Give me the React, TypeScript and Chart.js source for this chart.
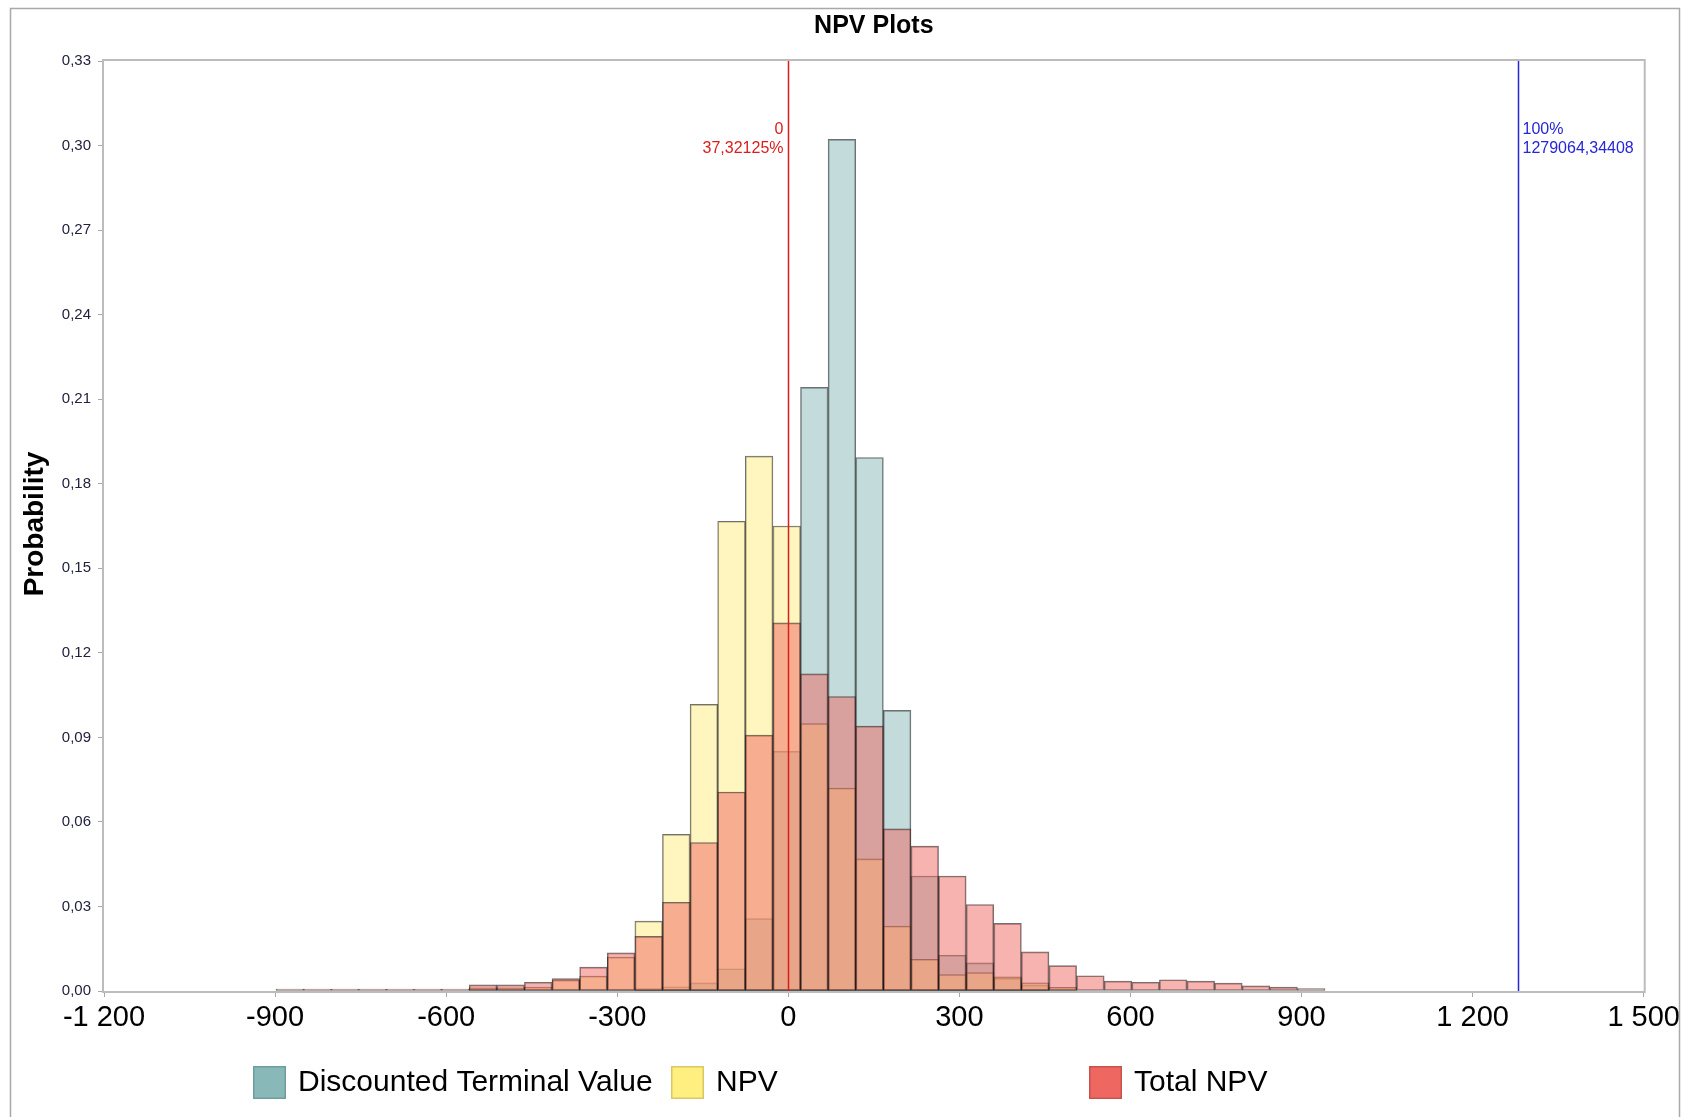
import React, { useEffect, useRef } from "react";
import { Chart, registerables } from "chart.js";

Chart.register(...registerables);

// Histogram bins (thousands): first left edge and common bin width
const BIN_START = -898.4;
const BIN_WIDTH = 48.41;

// Probability per bin, 38 bins
const discountedTerminalValue: (number | null)[] = [
  null, null, null, null, null, null, null, null, null, null,
  null, null, null, 0.0009, 0.0015, 0.0029, 0.0079, 0.0257, 0.085, 0.2142,
  0.3022, 0.1893, 0.0996, 0.0408, 0.0127, 0.01, 0.0045, 0.0021, null, null,
  null, null, null, null, null, null, null, null,
];

const npv: (number | null)[] = [
  null, null, null, null, null, null, null, 0.0011, 0.0011, 0.0014,
  0.0038, 0.0053, 0.012, 0.0248, 0.0556, 0.1017, 0.1667, 0.1898, 0.165, 0.0949,
  0.072, 0.0469, 0.023, 0.0112, 0.0058, 0.0065, 0.005, 0.0029, 0.0013, null,
  null, null, null, null, null, null, null, null,
];

const totalNpv: (number | null)[] = [
  0.0007, 0.0007, 0.0007, 0.0007, 0.0007, 0.0007, 0.0007, 0.0022, 0.0022, 0.0031,
  0.0044, 0.0085, 0.0135, 0.0194, 0.0315, 0.0527, 0.0706, 0.0908, 0.1306, 0.1125,
  0.1045, 0.094, 0.0575, 0.0514, 0.0408, 0.0307, 0.024, 0.0139, 0.009, 0.0054,
  0.0035, 0.0031, 0.004, 0.0035, 0.0028, 0.0018, 0.0014, 0.0009,
];

const X_TICKS = [-1200, -900, -600, -300, 0, 300, 600, 900, 1200, 1500];
const Y_TICKS = [0, 0.03, 0.06, 0.09, 0.12, 0.15, 0.18, 0.21, 0.24, 0.27, 0.3, 0.33];

const lowerMarker = { value: 0, lines: ["0", "37,32125%"] };
const upperMarker = { value: 1279.06434408, lines: ["100%", "1279064,34408"] };

const SERIES = [
  { label: "Discounted Terminal Value", values: discountedTerminalValue, rgb: [136, 184, 184], edge: "#6f9d9d" },
  { label: "NPV", values: npv, rgb: [255, 238, 128], edge: "#d9c865" },
  { label: "Total NPV", values: totalNpv, rgb: [239, 103, 97], edge: "#c8524c" },
];

const FONT = "'Liberation Sans', Arial, Helvetica, sans-serif";

const binCenters = totalNpv.map((_, i) => BIN_START + (i + 0.5) * BIN_WIDTH);

const formatThousands = (v: number) => {
  const s = Math.abs(v).toString();
  const grouped = s.replace(/\B(?=(\d{3})+(?!\d))/g, " ");
  return (v < 0 ? "-" : "") + grouped;
};

const decorations = {
  id: "npvDecorations",
  beforeDatasetsDraw(chart: any) {
    const { ctx, chartArea: a } = chart;
    // plot frame, underneath the bars
    ctx.save();
    ctx.strokeStyle = "#bcbcbc";
    ctx.lineWidth = 2;
    ctx.strokeRect(a.left - 1, a.top - 1, a.right - a.left + 2, a.bottom - a.top + 2);
    ctx.restore();
  },
  afterDatasetsDraw(chart: any) {
    const { ctx, chartArea: a, scales } = chart;
    const x = scales.x;

    // percentile markers
    const drawMarker = (m: { value: number; lines: string[] }, color: string, side: "left" | "right") => {
      const px = Math.round(x.getPixelForValue(m.value)) + 0.5;
      ctx.save();
      ctx.strokeStyle = color;
      ctx.lineWidth = 1.5;
      ctx.beginPath();
      ctx.moveTo(px, a.top);
      ctx.lineTo(px, a.bottom);
      ctx.stroke();
      ctx.fillStyle = color;
      ctx.font = `16px ${FONT}`;
      ctx.textBaseline = "middle";
      ctx.textAlign = side === "left" ? "right" : "left";
      const tx = side === "left" ? px - 5 : px + 4;
      m.lines.forEach((t, i) => ctx.fillText(t, tx, a.top + 69 + i * 19));
      ctx.restore();
    };
    drawMarker(lowerMarker, "#dc1c1c", "left");
    drawMarker(upperMarker, "#2626d6", "right");
  },
  afterDraw(chart: any) {
    const { ctx, chartArea: a } = chart;
    ctx.save();

    // outer frame
    ctx.strokeStyle = "#a9a9a9";
    ctx.lineWidth = 1.5;
    ctx.strokeRect(10.5, 8.5, 1669, 1200);

    // title
    ctx.fillStyle = "#000";
    ctx.font = `bold 25px ${FONT}`;
    ctx.textAlign = "center";
    ctx.textBaseline = "middle";
    ctx.fillText("NPV Plots", (a.left + a.right) / 2, 26);

    // y axis title
    ctx.save();
    ctx.translate(35, (a.top + a.bottom) / 2 - 2);
    ctx.rotate(-Math.PI / 2);
    ctx.font = `bold 28px ${FONT}`;
    ctx.fillText("Probability", 0, 0);
    ctx.restore();

    // legend
    const items = [
      { s: SERIES[0], x: 253 },
      { s: SERIES[1], x: 671 },
      { s: SERIES[2], x: 1089 },
    ];
    ctx.font = `30px ${FONT}`;
    ctx.textAlign = "left";
    ctx.textBaseline = "middle";
    items.forEach(({ s, x }) => {
      ctx.fillStyle = `rgb(${s.rgb.join(",")})`;
      ctx.fillRect(x, 1066, 33, 33);
      ctx.strokeStyle = s.edge;
      ctx.lineWidth = 1.5;
      ctx.strokeRect(x + 0.75, 1066.75, 31.5, 31.5);
      ctx.fillStyle = "#000";
      ctx.fillText(s.label, x + 45, 1083);
    });
    ctx.restore();
  },
};

export default function App() {
  const canvasRef = useRef<HTMLCanvasElement | null>(null);

  useEffect(() => {
    const canvas = canvasRef.current;
    if (!canvas) return;

    const datasets = SERIES.map((s, idx) => ({
      label: s.label,
      data: s.values.map((v, i) => ({ x: binCenters[i], y: v })),
      backgroundColor: `rgba(${s.rgb.join(",")},0.5)`,
      borderColor: "rgba(25,25,25,0.62)",
      borderWidth: 1,
      borderSkipped: false,
      barPercentage: 1,
      categoryPercentage: 1,
      grouped: false,
      // later series sit on top
      order: SERIES.length - idx,
    }));

    const chart = new Chart(canvas, {
      type: "bar",
      data: { datasets } as any,
      options: {
        animation: false,
        responsive: false,
        maintainAspectRatio: false,
        layout: { padding: { top: 61, right: 40, left: 0, bottom: 0 } },
        plugins: {
          legend: { display: false },
          tooltip: { enabled: false },
          title: { display: false },
        },
        scales: {
          x: {
            type: "linear",
            min: X_TICKS[0],
            max: X_TICKS[X_TICKS.length - 1],
            offset: false,
            afterFit: (s: any) => {
              s.height = 126;
            },
            afterBuildTicks: (s: any) => {
              s.ticks = X_TICKS.map((v) => ({ value: v }));
            },
            ticks: {
              autoSkip: false,
              maxRotation: 0,
              minRotation: 0,
              padding: 4,
              color: "#000",
              font: { family: FONT, size: 29 },
              callback: (v: any) => formatThousands(Number(v)),
            },
            grid: {
              offset: false,
              drawOnChartArea: false,
              drawTicks: true,
              tickLength: 6,
              color: "#a8a8a8",
            },
            border: { display: false },
          },
          y: {
            type: "linear",
            min: Y_TICKS[0],
            max: Y_TICKS[Y_TICKS.length - 1],
            afterFit: (s: any) => {
              s.width = 104;
            },
            afterBuildTicks: (s: any) => {
              s.ticks = Y_TICKS.map((v) => ({ value: v }));
            },
            ticks: {
              padding: 7,
              color: "#22223e",
              font: { family: FONT, size: 15 },
              callback: (v: any) => Number(v).toFixed(2).replace(".", ","),
            },
            grid: {
              drawOnChartArea: false,
              drawTicks: true,
              tickLength: 6,
              color: "#a8a8a8",
            },
            border: { display: false },
          },
        },
      } as any,
      plugins: [decorations],
    });

    return () => chart.destroy();
  }, []);

  return (
    <div style={{ position: "absolute", left: 0, top: 0, width: 1684, height: 1117, background: "#fff" }}>
      <canvas ref={canvasRef} width={1684} height={1117} style={{ width: 1684, height: 1117, display: "block" }} />
    </div>
  );
}
